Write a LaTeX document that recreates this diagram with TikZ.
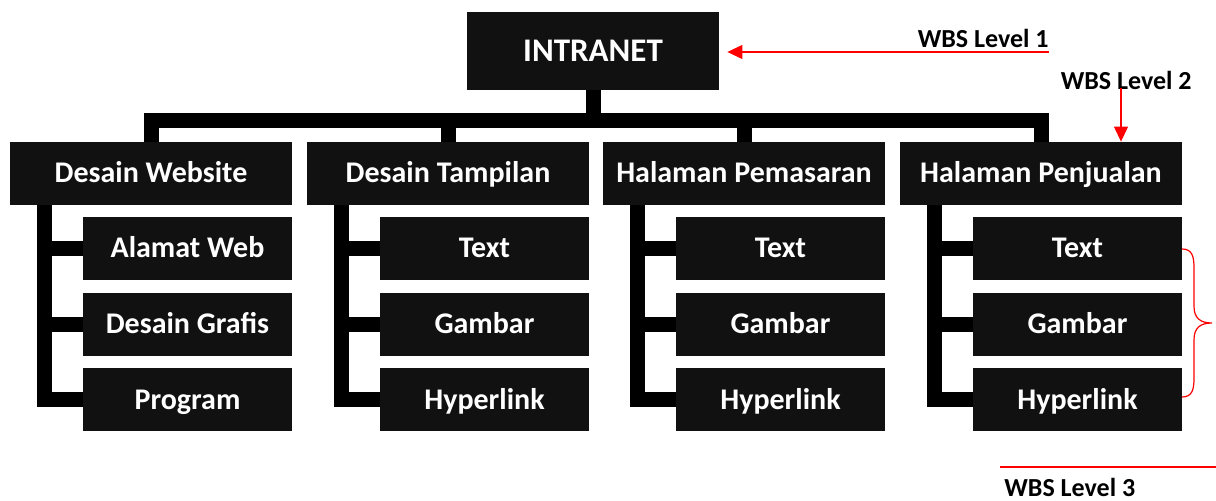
\documentclass[tikz,border=0pt]{standalone}
\usepackage{fontspec}
\setmainfont{Carlito}
\usetikzlibrary{arrows.meta,backgrounds}
\definecolor{boxblack}{HTML}{111111}
\definecolor{notered}{HTML}{FF0000}
\begin{document}
\begin{tikzpicture}[x=0.5pt,y=-0.5pt,
  wbsbox/.style={fill=boxblack, text=white, inner sep=0pt,
    font=\bfseries\fontsize{15}{17}\selectfont,
    text height=9.5pt, text depth=0pt},
  rootbox/.style={wbsbox, minimum width=126pt, minimum height=39pt,
    font=\bfseries\fontsize{16.5}{18}\selectfont, text height=10.4pt},
  groupbox/.style={wbsbox, minimum width=141pt, minimum height=31.5pt},
  itembox/.style={wbsbox, minimum width=104.5pt, minimum height=31.5pt},
  conn/.style={draw=black, line width=7.5pt, line join=miter, line cap=butt},
  note/.style={font=\bfseries\fontsize{13}{15}\selectfont, inner sep=0pt},
  notearrow/.style={draw=notered, line width=0.6pt,
    -{Triangle[length=7.5pt,width=7pt]}},
  noteline/.style={draw=notered, line width=0.6pt}
]
\useasboundingbox (0,0) rectangle (1216,501);

% top level
\node[rootbox] (root) at (593,51) {INTRANET};
\coordinate (bar) at (0,121);

% second and third levels
\foreach \n/\lx/\t/\ca/\cb/\cc in {
  a/10/Desain Website/Alamat Web/Desain Grafis/Program,
  b/307/Desain Tampilan/Text/Gambar/Hyperlink,
  c/603/Halaman Pemasaran/Text/Gambar/Hyperlink,
  d/900/Halaman Penjualan/Text/Gambar/Hyperlink}{
  \node[groupbox] (l2\n) at (\lx+141,173.5) {\t};
  \node[itembox] (\n1) at (\lx+177.5,248.5) {\ca};
  \node[itembox] (\n2) at (\lx+177.5,324.5) {\cb};
  \node[itembox] (\n3) at (\lx+177.5,400) {\cc};
  \coordinate (sp\n) at (\lx+34.5,173.5);
}

% tree connectors behind the boxes
\begin{scope}[on background layer]
  \foreach \n in {a,b,c,d}{
    \draw[conn] (root.center) -- (root.center |- bar) -| (l2\n.center);
    \foreach \k in {1,2,3}{
      \draw[conn] (sp\n) |- (\n\k.center);
    }
  }
\end{scope}

% level annotations
\coordinate (l1from) at (1049,52);
\node[note, anchor=base east] (lab1) at (1049,48) {WBS Level 1};
\draw[notearrow] (l1from) -- ([xshift=4pt]root.east |- l1from);

\node[note, anchor=base east] (lab2) at (1192,90) {WBS Level 2};
\coordinate (l2from) at (1121,88);
\draw[notearrow] (l2from) -- (l2from |- l2d.north);

% brace grouping the third-level items
\coordinate (bt) at (1182,249);
\coordinate (bb) at (1182,397);
\draw[noteline] (bt) .. controls (1192,249) and (1194,256) .. (1194,268)
  -- (1194,306) .. controls (1194,318) and (1200,323) .. (1212,323)
  .. controls (1200,323) and (1194,328) .. (1194,340)
  -- (1194,378) .. controls (1194,390) and (1192,397) .. (bb);

\coordinate (l3a) at (1000,467);
\coordinate (l3b) at (1216,467);
\draw[noteline] (l3a) -- (l3b);
\node[note, anchor=base west] (lab3) at (1004,497) {WBS Level 3};
\end{tikzpicture}
\end{document}
